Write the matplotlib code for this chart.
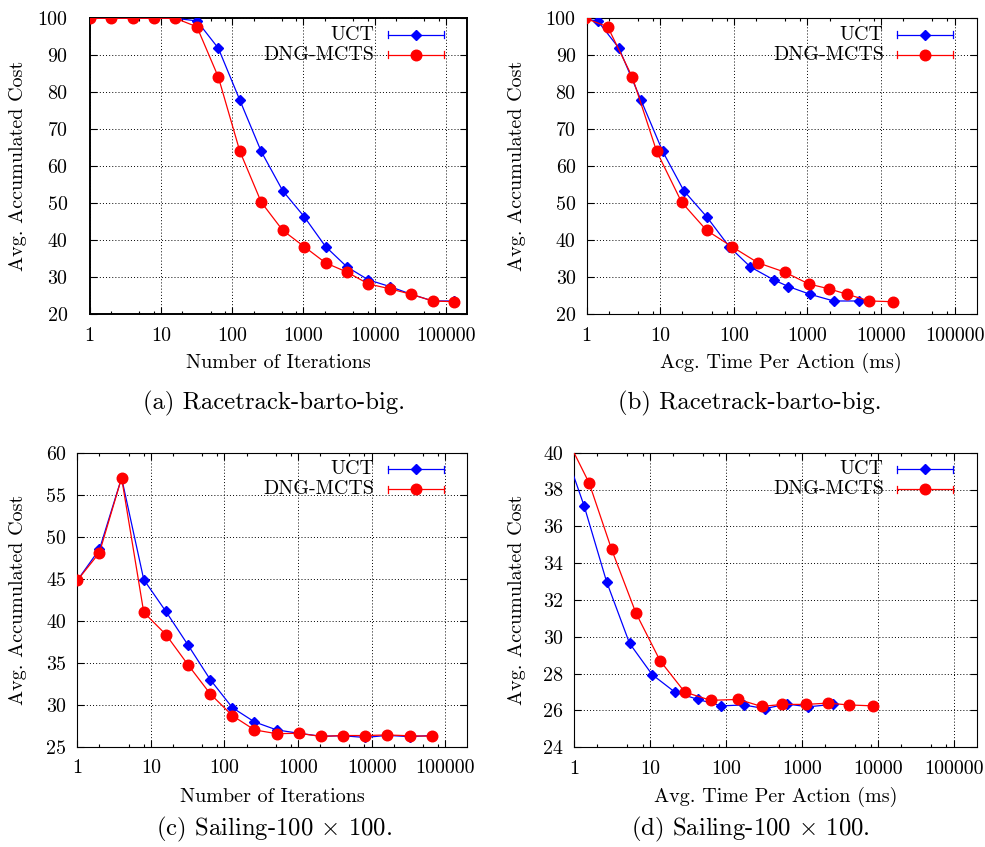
import matplotlib
matplotlib.use("Agg")
import matplotlib.pyplot as plt
from matplotlib.ticker import FixedLocator, NullFormatter

plt.rcParams['font.family'] = ['cmr10', 'DejaVu Serif']
plt.rcParams['mathtext.fontset'] = 'cm'
plt.rcParams['axes.formatter.use_mathtext'] = True

# ---------------- data ----------------
iters_a = [2 ** i for i in range(18)]
uct_a = [100, 100, 100, 100, 100, 99.3, 91.9, 77.9, 64.0, 53.4, 46.4, 38.3,
         32.8, 29.3, 27.5, 25.4, 23.6, 23.6]
dng_a = [100, 100, 100, 100, 100, 97.7, 84.1, 64.1, 50.3, 42.7, 38.3, 33.9,
         31.4, 28.2, 26.9, 25.4, 23.6, 23.4]

time_uct_b = [0.045, 0.09, 0.18, 0.35, 0.7, 1.41, 2.75, 5.47, 10.8, 20.9, 42.6,
              86.4, 168, 349, 552, 1087, 2277, 5080]
time_dng_b = [0.06, 0.12, 0.24, 0.48, 0.96, 1.93, 4.17, 8.91, 19.5, 42.6, 93.9,
              214, 492, 1042, 1950, 3490, 6950, 14700]

iters_c = [2 ** i for i in range(17)]
uct_c = [44.8, 48.5, 57.0, 44.9, 41.1, 37.1, 33.0, 29.65, 27.95, 27.0, 26.6,
         26.25, 26.3, 26.1, 26.35, 26.2, 26.33]
dng_c = [44.8, 48.1, 57.0, 41.0, 38.35, 34.75, 31.3, 28.7, 27.0, 26.55, 26.6,
         26.22, 26.33, 26.33, 26.4, 26.3, 26.25]

time_uct_d = [0.04, 0.08, 0.15, 0.3, 0.62, 1.35, 2.66, 5.34, 10.6, 21.1, 42.7,
              86.4, 170, 324, 631, 1205, 2540]
time_dng_d = [0.1, 0.19, 0.38, 0.75, 1.57, 3.10, 6.47, 13.5, 28.5, 62.6, 145,
              293, 553, 1133, 2183, 4125, 8700]

xtick_vals = [1, 10, 100, 1000, 10000, 100000]
xtick_labels = ['1', '10', '100', '1000', '10000', '100000']
yticks_ab = [20, 30, 40, 50, 60, 70, 80, 90, 100]
yticks_c = [25, 30, 35, 40, 45, 50, 55, 60]
yticks_d = [24, 26, 28, 30, 32, 34, 36, 38, 40]

series_names = ['UCT', 'DNG-MCTS']
BLUE = '#0000ff'
RED = '#ff0000'

W, H = 985, 847
fig = plt.figure(figsize=(W / 100, H / 100), dpi=100)


def px_axes(left, top, right, bottom):
    return fig.add_axes([left / W, 1 - bottom / H, (right - left) / W, (bottom - top) / H])


TICK_FS = 14.4
LAB_FS = 14.5
CAP_FS = 17.8


def style(ax, yticks, ylim, frame_lw, ypad):
    ax.set_xscale('log')
    ax.set_xlim(1, 200000)
    ax.set_ylim(*ylim)
    ax.xaxis.set_major_locator(FixedLocator(xtick_vals))
    ax.set_xticklabels(xtick_labels)
    minors = [m * 10 ** e for e in range(0, 6) for m in (2, 5, 8)]
    ax.xaxis.set_minor_locator(FixedLocator([v for v in minors if v < 200000]))
    ax.xaxis.set_minor_formatter(NullFormatter())
    ax.set_yticks(yticks)
    ax.set_yticklabels([str(v) for v in yticks])
    ax.grid(True, which='major', color='black', linestyle=(0, (1, 2.2)), linewidth=0.7)
    ax.tick_params(which='major', direction='in', length=5, width=0.8,
                   top=True, right=True, labelsize=TICK_FS)
    ax.tick_params(axis='x', which='major', pad=9)
    ax.tick_params(axis='y', which='major', pad=ypad)
    ax.tick_params(which='minor', direction='in', length=2.5, width=0.8,
                   top=True, right=True)
    for s in ax.spines.values():
        s.set_linewidth(frame_lw)
    ax.set_axisbelow(True)


def legend(ax, wpx, hpx):
    tx = 1 - 93 / wpx
    x0 = 1 - 79.3 / wpx
    x1 = 1 - 23.7 / wpx
    xm = (x0 + x1) / 2
    rows = [1 - 16.7 / hpx, 1 - 36.7 / hpx]
    cap = 3.5 / hpx
    for name, col, mk, ms, y in [(series_names[0], BLUE, 'D', 5.4, rows[0]),
                                 (series_names[1], RED, 'o', 7.6, rows[1])]:
        ax.text(tx, y, name, transform=ax.transAxes, ha='right', va='center',
                fontsize=TICK_FS)
        ax.plot([x0, x1], [y, y], transform=ax.transAxes, color=col, lw=0.9, clip_on=False)
        ax.plot([x0, x0], [y - cap, y + cap], transform=ax.transAxes, color=col, lw=0.9, clip_on=False)
        ax.plot([x1, x1], [y - cap, y + cap], transform=ax.transAxes, color=col, lw=0.9, clip_on=False)
        ax.plot([xm], [y], transform=ax.transAxes, color=col, marker=mk, ms=ms,
                mec=col, clip_on=False)


def draw(ax, xu, yu, xd, yd):
    ax.plot(xu, yu, color=BLUE, lw=0.9, marker='D', ms=5.4, mec=BLUE, zorder=3)
    ax.plot(xd, yd, color=RED, lw=0.9, marker='o', ms=7.6, mec=RED, zorder=4)


# (a)
axA = (89.7, 18.3, 467.3, 314.3)
ax = px_axes(*axA)
draw(ax, iters_a, uct_a, iters_a, dng_a)
style(ax, yticks_ab, (20, 100), 1.4, 16)
legend(ax, axA[2] - axA[0], axA[3] - axA[1])

# (b)
axB = (586.7, 18.3, 976.7, 314.3)
ax = px_axes(*axB)
draw(ax, time_uct_b, uct_a, time_dng_b, dng_a)
style(ax, yticks_ab, (20, 100), 0.8, 8)
legend(ax, axB[2] - axB[0], axB[3] - axB[1])

# (c)
axC = (77.3, 452.7, 467.3, 746.7)
ax = px_axes(*axC)
draw(ax, iters_c, uct_c, iters_c, dng_c)
style(ax, yticks_c, (25, 60), 0.8, 8)
legend(ax, axC[2] - axC[0], axC[3] - axC[1])

# (d)
axD = (574.3, 452.7, 976.7, 747.3)
ax = px_axes(*axD)
draw(ax, time_uct_d, uct_c, time_dng_d, dng_c)
style(ax, yticks_d, (24, 40), 0.8, 8)
legend(ax, axD[2] - axD[0], axD[3] - axD[1])


def ftext(x, y, s, **kw):
    fig.text(x / W, 1 - y / H, s, ha='center', va='center', **kw)


ylab = 'Avg. Accumulated Cost'
ftext(18, 166, ylab, rotation=90, fontsize=LAB_FS)
ftext(517, 166, ylab, rotation=90, fontsize=LAB_FS)
ftext(18, 600, ylab, rotation=90, fontsize=LAB_FS)
ftext(517, 600, ylab, rotation=90, fontsize=LAB_FS)

ftext(278, 363, 'Number of Iterations', fontsize=LAB_FS)
ftext(781, 363, 'Acg. Time Per Action (ms)', fontsize=LAB_FS)
ftext(272, 797, 'Number of Iterations', fontsize=LAB_FS)
ftext(776, 797, 'Avg. Time Per Action (ms)', fontsize=LAB_FS)

ftext(274, 403, '(a) Racetrack-barto-big.', fontsize=CAP_FS)
ftext(750, 403, '(b) Racetrack-barto-big.', fontsize=CAP_FS)
ftext(274, 829, r'(c) Sailing-100 $\times$ 100.', fontsize=CAP_FS)
ftext(750, 829, r'(d) Sailing-100 $\times$ 100.', fontsize=CAP_FS)

fig.savefig('out.png', dpi=100)
